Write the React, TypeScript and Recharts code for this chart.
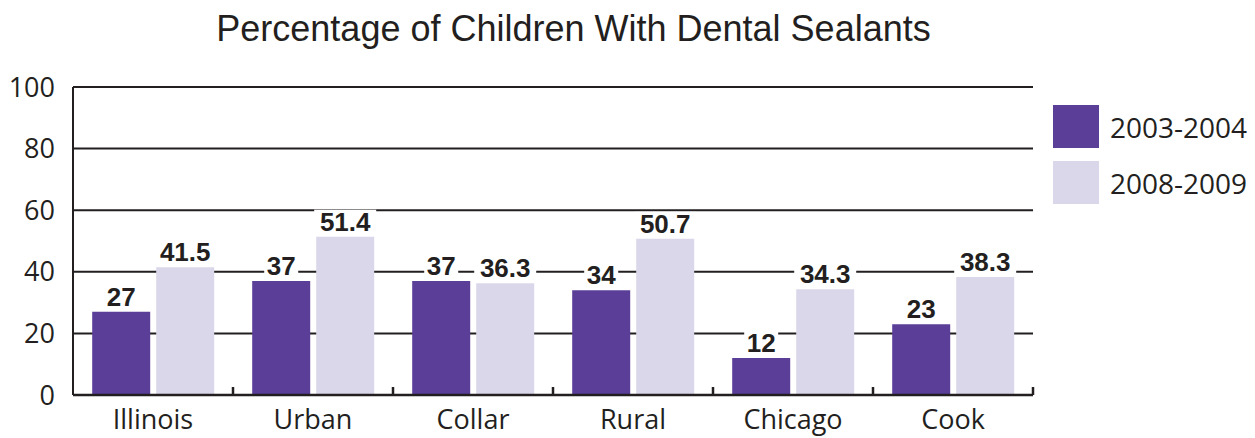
import React from "react";
import { BarChart, Bar, XAxis, YAxis, CartesianGrid, LabelList } from "recharts";

const categories = ["Illinois", "Urban", "Collar", "Rural", "Chicago", "Cook"];
const series2003 = [27, 37, 37, 34, 12, 23];
const series2008 = [41.5, 51.4, 36.3, 50.7, 34.3, 38.3];
const yTicks = [0, 20, 40, 60, 80, 100];
const seriesNames = ["2003-2004", "2008-2009"];
const colors = ["#5a3e98", "#dbd7ea"];

const data = categories.map((c, i) => ({ name: c, a: series2003[i], b: series2008[i] }));

const X_TICK_MARGIN = 15;

const ValueLabel = (props: any) => {
  const { x, y, width, value } = props;
  const cx = x + width / 2;
  const txt = String(value);
  const w = txt.length * 14 + 6;
  return (
    <g>
      <rect x={cx - w / 2} y={y - 27} width={w} height={25} fill="#fff" />
      <text x={cx} y={y - 6} textAnchor="middle" fontFamily="Liberation Sans, Arial, sans-serif" fontWeight="bold" fontSize={26} fill="#231f20">
        {txt}
      </text>
    </g>
  );
};

const CategoryTick = (props: any) => {
  const { x, y, payload } = props;
  const half = payload && payload.offset ? payload.offset : 0;
  const axisY = y - X_TICK_MARGIN;
  const bx = x + half;
  return (
    <g>
      <line x1={bx} y1={axisY} x2={bx} y2={axisY - 8} stroke="#231f20" strokeWidth={2.5} />
      <text x={x} y={y} dy="0.71em" textAnchor="middle" fontFamily="Open Sans, sans-serif" fontSize={27} fill="#231f20">
        {payload.value}
      </text>
    </g>
  );
};

export default function App() {
  return (
    <div style={{ position: "absolute", left: 0, top: 0, width: 1255, height: 438, background: "#fff" }}>
      <div style={{ position: "absolute", left: 0, top: 8, width: 1147, textAlign: "center", fontFamily: "Liberation Sans, Arial, sans-serif", fontSize: 36, color: "#231f20", whiteSpace: "nowrap" }}>
        Percentage of Children With Dental Sealants
      </div>
      <div style={{ position: "absolute", left: 1053, top: 105 }}>
        {seriesNames.map((n, i) => (
          <div key={n} style={{ position: "absolute", left: 0, top: i * 56, display: "flex", alignItems: "center", height: 43, whiteSpace: "nowrap" }}>
            <div style={{ width: 46, height: 43, background: colors[i] }} />
            <span style={{ marginLeft: 11, fontFamily: "Open Sans, sans-serif", fontSize: 28, color: "#231f20" }}>{n}</span>
          </div>
        ))}
      </div>
      <div style={{ position: "absolute", left: 0, top: 0 }}>
        <BarChart width={1255} height={438} data={data} margin={{ top: 87, right: 222, bottom: 0, left: 0 }} barCategoryGap="12%" barGap={6}>
          <CartesianGrid horizontal vertical={false} stroke="#231f20" strokeWidth={2} />
          <XAxis dataKey="name" height={43} axisLine={{ stroke: "#231f20", strokeWidth: 2.5 }} tickLine={false} tickSize={0} tickMargin={X_TICK_MARGIN} tick={CategoryTick} interval={0} />
          <YAxis width={73} domain={[0, 100]} ticks={yTicks} axisLine={{ stroke: "#231f20", strokeWidth: 2 }} tickLine={false} tickSize={0} tickMargin={18} tick={{ fontFamily: "Open Sans, sans-serif", fontSize: 27, fill: "#231f20" }} />
          <Bar dataKey="a" name={seriesNames[0]} fill={colors[0]} isAnimationActive={false}>
            <LabelList dataKey="a" content={ValueLabel} />
          </Bar>
          <Bar dataKey="b" name={seriesNames[1]} fill={colors[1]} isAnimationActive={false}>
            <LabelList dataKey="b" content={ValueLabel} />
          </Bar>
        </BarChart>
      </div>
    </div>
  );
}
